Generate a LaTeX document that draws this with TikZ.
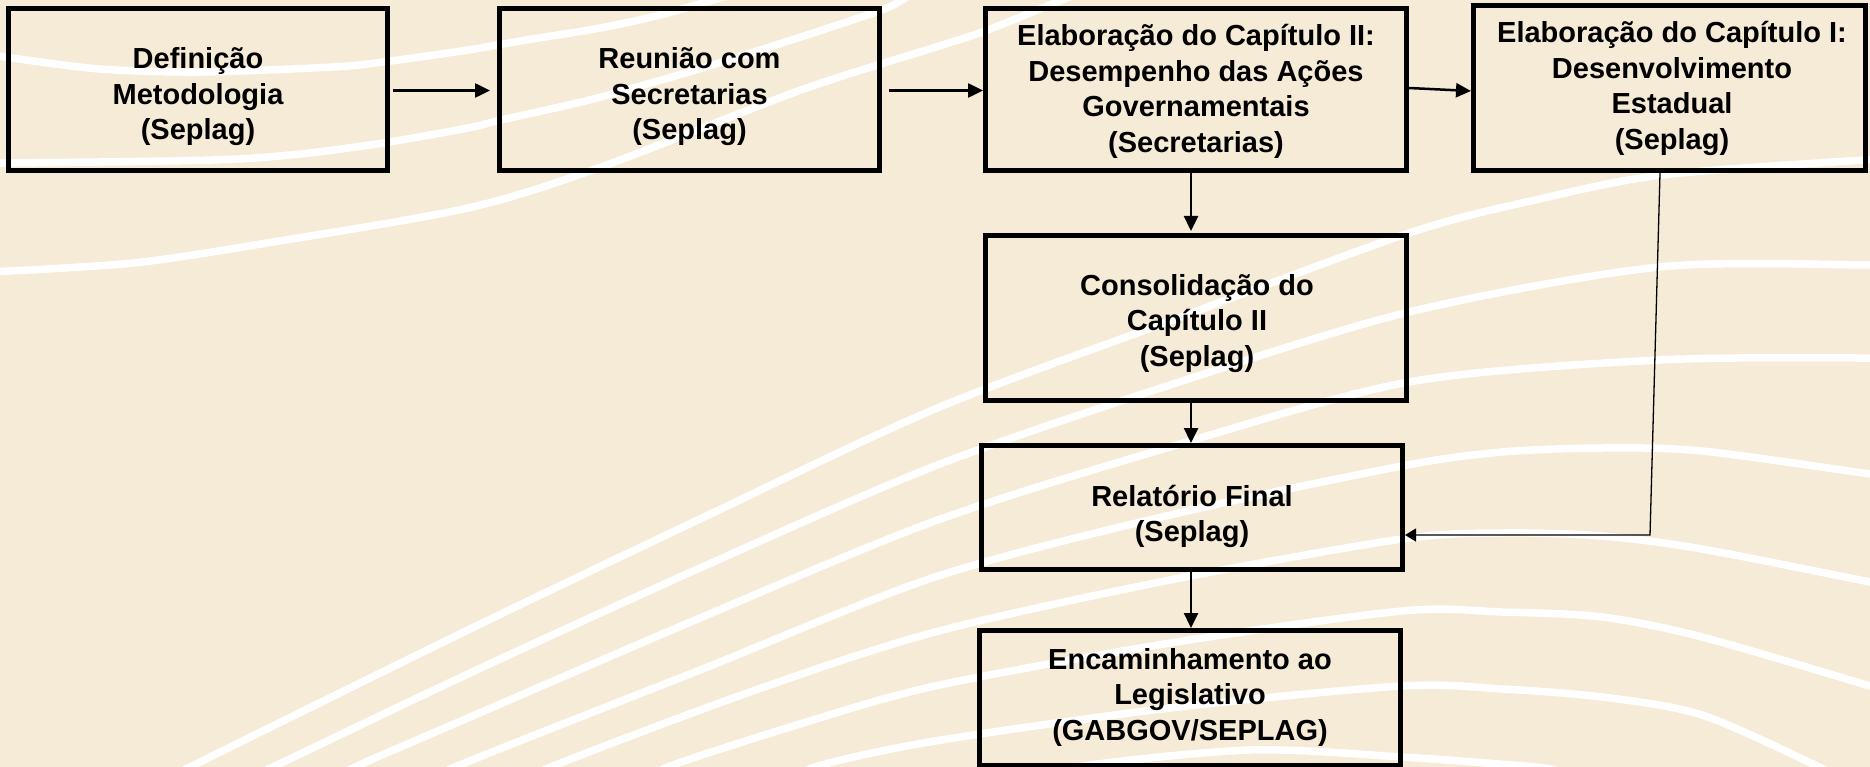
\documentclass[tikz,border=0pt]{standalone}
\usepackage{fontspec}
\setmainfont{Liberation Sans}
\usetikzlibrary{arrows.meta}
\definecolor{bgbeige}{RGB}{245,235,215}
\tikzset{
  wave/.style={white, line width=7.5pt},
  box/.style={draw=black, line width=5pt, inner sep=0pt, rectangle},
  lbl/.style={inner sep=0pt, anchor=base, font=\fontsize{29}{35.5}\selectfont\bfseries},
  arr/.style={line width=2.5pt, -{Triangle[length=15pt,width=14pt]}},
  arrthin/.style={line width=1.3pt, -{Triangle[length=11pt,width=13pt]}},
}
\newcommand{\mlines}[1]{\begin{tabular}[t]{@{}c@{}}#1\end{tabular}}
\begin{document}
\begin{tikzpicture}[x=1pt,y=-1pt]
\fill[bgbeige] (0,0) rectangle (1870,767);
\useasboundingbox (0,0) rectangle (1870,767);
\begin{scope}
\clip (0,0) rectangle (1870,767);
% upper-left arcs
\draw[wave] plot[smooth] coordinates {(-10,54) (12,58) (100,69) (200,72) (333,67) (383,62) (468,50) (520,41) (600,28) (660,15) (720,-2) (740,-8)};
\draw[wave] plot[smooth] coordinates {(-10,162) (12,163) (213,160) (300,154) (383,143) (468,128) (501,120) (601,97) (735,58) (876,12) (905,-2) (915,-8)};
\draw[wave] plot[smooth] coordinates {(-10,272) (133,263) (267,243) (468,208) (601,167) (801,90) (936,47) (985,31) (1062,0) (1080,-8)};
% fan from lower left
\draw[wave] plot[smooth] coordinates {(150,787) (190,767) (468,630) (700,519) (935,409) (1170,321) (1409,233) (1535,200) (1662,175) (1865,160) (1900,159)};
\draw[wave] plot[smooth] coordinates {(230,787) (273,767) (468,674) (700,568) (935,466) (1170,385) (1409,312) (1659,267) (1870,265) (1900,266)};
\draw[wave] plot[smooth] coordinates {(320,787) (355,767) (468,718) (700,618) (935,521) (1170,447) (1409,382) (1659,360) (1870,358) (1900,359)};
\draw[wave] plot[smooth] coordinates {(420,787) (455,767) (700,670) (935,577) (1170,515) (1402,466) (1502,452) (1602,448) (1702,451) (1870,474) (1900,478)};
\draw[wave] plot[smooth] coordinates {(520,787) (551,767) (750,692) (935,632) (1170,580) (1402,539) (1502,533) (1602,536) (1702,549) (1870,582) (1900,588)};
\draw[wave] plot[smooth] coordinates {(640,787) (668,767) (800,724) (935,686) (1170,643) (1402,611) (1502,612) (1602,617) (1702,637) (1870,686) (1900,696)};
\draw[wave] plot[smooth] coordinates {(790,787) (815,767) (935,741) (1170,708) (1402,686) (1502,689) (1602,697) (1702,715) (1819,767) (1850,785)};
\draw[wave] plot[smooth] coordinates {(1040,787) (1078,767) (1250,750) (1402,757) (1535,767) (1560,772)};
\end{scope}
% boxes
\node[box, minimum width=379pt, minimum height=162pt] (b1) at (198,89.5) {};
\node[box, minimum width=380pt, minimum height=162pt] (b2) at (689.5,89.5) {};
\node[box, minimum width=421pt, minimum height=162pt] (b3) at (1196,89.5) {};
\node[box, minimum width=392pt, minimum height=165pt] (b4) at (1669.5,88) {};
\node[box, minimum width=421pt, minimum height=165pt] (b5) at (1196,318) {};
\node[box, minimum width=421pt, minimum height=124pt] (b6) at (1192,507.5) {};
\node[box, minimum width=421pt, minimum height=135pt] (b7) at (1190,698) {};
% texts
\node[lbl] (t1) at (198,69) {\mlines{Definição\\Metodologia\\(Seplag)}};
\node[lbl] (t2) at (689.5,69) {\mlines{Reunião com\\Secretarias\\(Seplag)}};
\node[lbl] (t3) at (1196,46) {\mlines{Elaboração do Capítulo II:\\Desempenho das Ações\\Governamentais\\(Secretarias)}};
\node[lbl] (t4) at (1672,43) {\mlines{Elaboração do Capítulo I:\\Desenvolvimento\\Estadual\\(Seplag)}};
\node[lbl] (t5) at (1197,295) {\mlines{Consolidação do\\Capítulo II\\(Seplag)}};
\node[lbl] (t6) at (1192,506) {\mlines{Relatório Final\\(Seplag)}};
\node[lbl] (t7) at (1190,669) {\mlines{Encaminhamento ao\\Legislativo\\(GABGOV/SEPLAG)}};
% connectors
\draw[arr, shorten <=3pt, shorten >=7pt] ([yshift=-1pt]b1.east) -- ([yshift=-1pt]b2.west);
\draw[arr, shorten <=7pt] ([yshift=-1pt]b2.east) -- ([yshift=-1pt]b3.west);
\draw[arr] ([yshift=1.5pt]b3.east) -- ([yshift=-3pt]b4.west);
\draw[arr, shorten >=2pt] ([xshift=-5pt]b3.south) -- ([xshift=-5pt]b5.north);
\draw[arr] ([xshift=-5pt]b5.south) -- ([xshift=-1pt]b6.north);
\draw[arr] ([xshift=-1pt]b6.south) -- ([xshift=1pt]b7.north);
\coordinate (k) at (1650,535);
\draw[arrthin] ([xshift=-9.5pt]b4.south) -- (k) -- (k -| b6.east);
\end{tikzpicture}
\end{document}
